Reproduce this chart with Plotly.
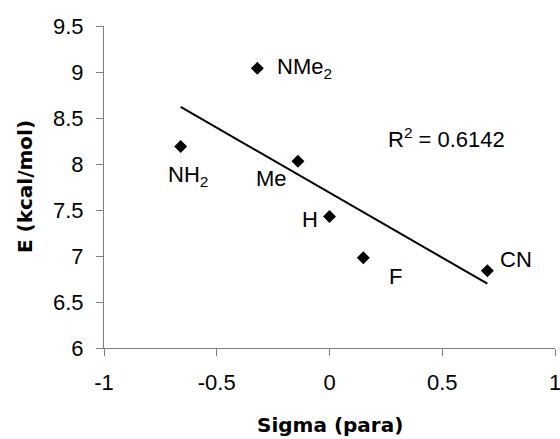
import numpy as np
import plotly.graph_objects as go

# Data
substituents = ["NH<sub>2</sub>", "NMe<sub>2</sub>", "Me", "H", "F", "CN"]
sigma_para = [-0.66, -0.32, -0.14, 0.0, 0.15, 0.70]
energy = [8.19, 9.04, 8.03, 7.43, 6.98, 6.84]
x_tick_vals = [-1, -0.5, 0, 0.5, 1]
x_tick_text = ["-1", "-0.5", "0", "0.5", "1"]
y_tick_vals = [6, 6.5, 7, 7.5, 8, 8.5, 9, 9.5]
y_tick_text = ["6", "6.5", "7", "7.5", "8", "8.5", "9", "9.5"]
r2_label = "R<sup>2</sup> = 0.6142"
x_title = "<b>Sigma (para)</b>"
y_title = "<b>E (kcal/mol)</b>"

# label offsets in pixels (dx, dy up) relative to each point
label_offsets = {
    "NH<sub>2</sub>": (7, -29, "center"),
    "NMe<sub>2</sub>": (18, 0, "left"),
    "Me": (-26, -17, "center"),
    "H": (-10, -3, "right"),
    "F": (32, -19, "center"),
    "CN": (29, 11, "center"),
}

FONT = "Liberation Sans, Arial, sans-serif"
TITLE_FONT = "DejaVu Sans, Liberation Sans, sans-serif"
FS = 22

# Linear trendline fitted to the data
slope, intercept = np.polyfit(sigma_para, energy, 1)
x_fit = [min(sigma_para), max(sigma_para)]
y_fit = [slope * v + intercept for v in x_fit]

fig = go.Figure()
fig.add_trace(go.Scatter(x=x_fit, y=y_fit, mode="lines",
                         line=dict(color="black", width=2), hoverinfo="skip"))
fig.add_trace(go.Scatter(x=sigma_para, y=energy, mode="markers",
                         marker=dict(symbol="diamond", size=10, color="black")))

for name, xv, yv in zip(substituents, sigma_para, energy):
    dx, dy, anc = label_offsets[name]
    fig.add_annotation(x=xv, y=yv, text=name, showarrow=False,
                       xshift=dx, yshift=dy, xanchor=anc, yanchor="middle",
                       font=dict(family=FONT, size=FS, color="black"))

fig.add_annotation(x=0.52, y=8.28, text=r2_label, showarrow=False,
                   xanchor="center", yanchor="middle",
                   font=dict(family=FONT, size=FS, color="black"))

# axis titles
fig.add_annotation(xref="paper", yref="paper", x=0.501, y=-0.239,
                   text=x_title, showarrow=False, xanchor="center", yanchor="middle",
                   font=dict(family=TITLE_FONT, size=20, color="black"))
fig.add_annotation(xref="paper", yref="paper", x=-0.175, y=0.5,
                   text=y_title, showarrow=False, textangle=-90,
                   xanchor="center", yanchor="middle",
                   font=dict(family=TITLE_FONT, size=20, color="black"))

axis_common = dict(showline=True, linecolor="#808080", linewidth=1,
                   ticks="outside", ticklen=7, tickcolor="#808080",
                   showgrid=False, zeroline=False, mirror=False,
                   automargin=False, ticklabeloverflow="allow",
                   tickfont=dict(family=FONT, size=FS, color="black"))

fig.update_layout(
    width=560, height=439,
    margin=dict(l=104, r=5, t=26, b=91),
    plot_bgcolor="white", paper_bgcolor="white",
    showlegend=False,
    xaxis=dict(range=[-1, 1], tickvals=x_tick_vals, ticktext=x_tick_text,
               ticklabelstandoff=8, **axis_common),
    yaxis=dict(range=[6, 9.5], tickvals=y_tick_vals, ticktext=y_tick_text,
               ticklabelstandoff=8, **axis_common),
)

fig.write_html("out.html",
               config={"displayModeBar": False},
               post_script="document.body.style.margin='0';document.body.style.padding='0';document.body.style.overflow='hidden';")
